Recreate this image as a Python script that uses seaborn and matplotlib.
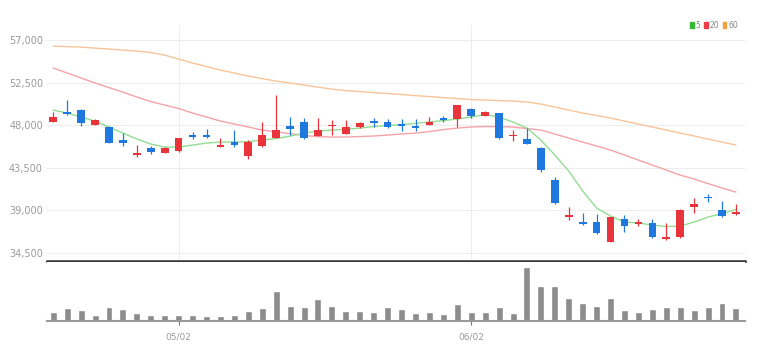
import numpy as np
import pandas as pd
import matplotlib
matplotlib.use("Agg")
import matplotlib.pyplot as plt
import seaborn as sns
from matplotlib.patches import Patch

# Daily candles (price in won)
opens = [48350, 49400, 49600, 48050, 47800, 46400, 44800, 45550, 45050, 45250,
         46950, 47000, 45700, 46250, 44700, 45800, 46650, 47900, 48300, 46850,
         47900, 47100, 47750, 48450, 48350, 48050, 47950, 48050, 48750, 48650,
         49750, 49000, 49250, 46850, 46500, 45550, 42150, 38250, 37750, 37750,
         35650, 38000, 37500, 37600, 35900, 36100, 39350, 40400, 39050, 38550]
highs = [49400, 50650, 49650, 48600, 47900, 47200, 45900, 45800, 45650, 46650,
         47300, 47550, 46600, 47450, 46400, 48350, 51200, 48900, 48700, 48800,
         48550, 48550, 48350, 48750, 48650, 48650, 48650, 48900, 49000, 50150,
         49800, 49450, 49300, 47450, 47650, 45700, 42450, 39350, 38700, 38550,
         38300, 38450, 38100, 38000, 37600, 39100, 40250, 40750, 40000, 39650]
lows = [48300, 49050, 47900, 48000, 46100, 45800, 44650, 44950, 45000, 45100,
        46500, 46650, 45650, 45700, 44450, 45700, 46600, 46950, 46550, 46800,
        47000, 47050, 47700, 47800, 47650, 47350, 47350, 48000, 48350, 47800,
        48700, 48950, 46550, 46350, 45950, 43050, 39600, 37950, 37450, 36450,
        35600, 36700, 37300, 36050, 35850, 36050, 38650, 39900, 38300, 38500]
closes = [48900, 49150, 48200, 48500, 46150, 46150, 45050, 45100, 45600, 46600,
          46700, 46750, 45900, 45900, 46250, 47000, 47450, 47600, 46600, 47450,
          48050, 47800, 48200, 48200, 47800, 47950, 47650, 48350, 48500, 50100,
          48950, 49400, 46600, 47000, 46000, 43250, 39700, 38450, 37500, 36550,
          38300, 37300, 37750, 36100, 36100, 39050, 39650, 40250, 38350, 38800]

# Moving averages as drawn on the chart
ma5 = [49590, 49270, 48850, 48420, 47790, 47150, 46520, 45990, 45670, 45670,
       45880, 46090, 46200, 46200, 46250, 46410, 46570, 46830, 47150, 47360,
       47470, 47550, 47680, 47840, 47950, 48050, 48180, 48320, 48480, 48640,
       48850, 49110, 48850, 48320, 47680, 46410, 44820, 43130, 41010, 39210,
       38360, 37730, 37620, 37410, 37250, 37300, 37730, 38260, 38630, 39050]
ma20 = [54040, 53510, 52980, 52450, 51970, 51490, 50970, 50490, 50120, 49750,
        49270, 48850, 48420, 48110, 47790, 47470, 47260, 47100, 46890, 46780,
        46730, 46730, 46780, 46840, 46940, 47050, 47150, 47310, 47520, 47680,
        47790, 47840, 47840, 47790, 47630, 47470, 47050, 46620, 46200, 45780,
        45350, 44820, 44290, 43760, 43230, 42700, 42280, 41800, 41330, 40900]
ma60 = [56370, 56310, 56260, 56150, 56050, 55940, 55840, 55680, 55410, 54990,
        54570, 54200, 53820, 53510, 53190, 52920, 52660, 52450, 52240, 52020,
        51810, 51650, 51550, 51440, 51340, 51230, 51120, 51020, 50910, 50810,
        50700, 50650, 50590, 50540, 50440, 50220, 49910, 49590, 49270, 49010,
        48740, 48420, 48110, 47790, 47470, 47150, 46840, 46520, 46200, 45880]

# Volume (thousand shares)
volume = [87, 127, 110, 60, 143, 123, 77, 60, 60, 60,
          60, 47, 47, 60, 103, 127, 303, 153, 137, 223,
          153, 103, 103, 93, 137, 120, 77, 93, 67, 170,
          93, 87, 143, 77, 537, 350, 350, 227, 177, 153,
          227, 110, 93, 120, 137, 137, 110, 137, 177, 127]

tick_pos = [9, 30]
tick_labels = ["05/02", "06/02"]
price_ticks = [34500, 39000, 43500, 48000, 52500, 57000]
ma_names = ["5", "20", "60"]

UP = "#e8343a"
DOWN = "#1f78de"
MA_COLORS = ["#93dd93", "#f5a3a8", "#f8c49a"]
LEGEND_COLORS = ["#35b735", "#ec3b47", "#f2a43a"]

sns.set_theme(style="white")
plt.rcParams['font.family'] = ['Liberation Sans Narrow', 'DejaVu Sans']

df = pd.DataFrame({"open": opens, "high": highs, "low": lows, "close": closes,
                   "ma5": ma5, "ma20": ma20, "ma60": ma60, "volume": volume})
df["idx"] = np.arange(len(df))
df["up"] = df["close"] >= df["open"]
colors = np.where(df["up"], UP, DOWN)

W, H = 768, 361
fig = plt.figure(figsize=(W / 100, H / 100), dpi=100)
left, right = 47 / W, 745 / W
ax = fig.add_axes([left, (H - 261) / H, right - left, 236 / H])
axv = fig.add_axes([left, (H - 321) / H, right - left, 59 / H])
xlim = (-0.45, 49.65)

# price panel
ax.set_yticks(price_ticks)
ax.set_xticks(tick_pos)
ax.grid(True, color="#ededed", lw=0.8)
ax.set_axisbelow(True)

for col, c in zip(["ma60", "ma20", "ma5"], MA_COLORS[::-1]):
    sns.lineplot(data=df, x="idx", y=col, ax=ax, color=c, lw=1.0, zorder=2)

ax.vlines(df["idx"], df["low"], df["high"], colors=colors, lw=0.9, zorder=3)
body_lo = np.minimum(df["open"], df["close"])
body_h = np.maximum((df["close"] - df["open"]).abs(), 110)
ax.bar(df["idx"], body_h, bottom=body_lo, width=0.55, color=colors, lw=0, zorder=4)

ax.set_xlim(*xlim)
ax.set_ylim(33600, 58600)
ax.set_xlabel("")
ax.set_ylabel("")
ax.set_yticklabels([f"{v:,}" for v in price_ticks])
ax.tick_params(axis="y", length=0, pad=3, labelsize=7, labelcolor="#9a9a9a")
ax.tick_params(axis="x", length=0, labelbottom=False)
for s in ["top", "right", "left"]:
    ax.spines[s].set_visible(False)
ax.spines["bottom"].set_color("#333333")
ax.spines["bottom"].set_linewidth(1.8)

handles = [Patch(color=c) for c in LEGEND_COLORS]
fig.legend(handles, ma_names, ncol=3, loc="center right",
           bbox_to_anchor=(745 / W, 1 - 25 / H), frameon=False, fontsize=5.5,
           handlelength=0.45, handleheight=0.9, handletextpad=0.25,
           columnspacing=0.5, labelcolor="#888888")

# volume panel
sns.barplot(data=df, x="idx", y="volume", ax=axv, color="#8c8c8c",
            saturation=1, width=0.5, zorder=2)
axv.set_xlim(*xlim)
axv.set_ylim(0, 590)
axv.set_xticks(tick_pos)
axv.set_xticklabels(tick_labels)
axv.set_yticks([])
axv.set_xlabel("")
axv.set_ylabel("")
axv.tick_params(axis="x", length=3, width=0.8, color="#777777", pad=5,
                labelsize=6.5, labelcolor="#9a9a9a", bottom=True)
for s in ["top", "right", "left"]:
    axv.spines[s].set_visible(False)
axv.spines["bottom"].set_color("#9a9a9a")
axv.spines["bottom"].set_linewidth(1.5)

fig.savefig("out.png", dpi=100)
